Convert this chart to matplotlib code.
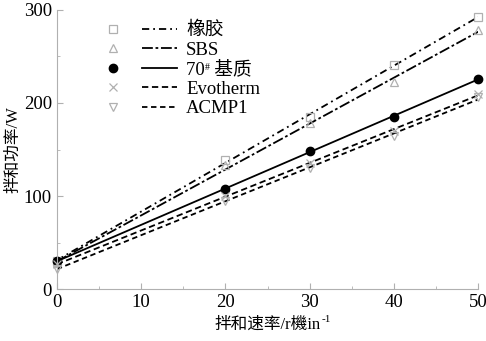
import numpy as np
import matplotlib
matplotlib.use("Agg")
import matplotlib.pyplot as plt
from matplotlib.lines import Line2D
from matplotlib.legend_handler import HandlerTuple
from matplotlib.ticker import MultipleLocator

plt.rcParams['font.family'] = ['Liberation Serif', 'Noto Sans CJK SC']

# mixing speed (r/min) and mixing power (W)
speed = [0, 20, 30, 40, 50]
rubber = [30, 139, 185, 241, 292]
sbs = [28, 133, 178, 223, 278]
base70 = [30, 108, 148, 185, 226]
evotherm = [27, 100, 135, 170, 210]
acmp1 = [22, 95, 130, 165, 206]

labels = ["橡胶", "SBS", "70  基质", "Evotherm", "ACMP1"]
series = [rubber, sbs, base70, evotherm, acmp1]
markers = ["s", "^", "o", "x", "v"]
dashes = [(0, (4, 2.2, 1, 2.2)), (0, (6, 1.5, 1.5, 1.5)), "-", (0, (3.5, 2)), (0, (3, 2))]

grey = "#b0b0b0"
fig = plt.figure(figsize=(4.86, 3.41), dpi=100)
ax = fig.add_axes([0.117, 0.152, 0.867, 0.819])

xs = np.array(speed, float)
xfit = np.array([0.0, 50.0])
handles = []
for y, m, ls in zip(series, markers, dashes):
    k, b = np.polyfit(xs, y, 1)           # fitted line as in the figure
    ax.plot(xfit, k * xfit + b, color="k", ls=ls, lw=1.3)
    if m == "o":
        mk = dict(marker="o", color="k", ms=6, ls="none")
    else:
        mk = dict(marker=m, mfc="none", mec=grey, ms=6, mew=0.9, ls="none")
    ax.plot(xs, y, clip_on=False, **mk)
    handles.append((Line2D([], [], **mk), Line2D([], [], color="k", ls=ls, lw=1.3)))

leg = ax.legend(handles, labels, handler_map={tuple: HandlerTuple(ndivide=None, pad=0.6)},
                handlelength=4.3, frameon=False, loc="upper left",
                bbox_to_anchor=(0.075, 0.985), fontsize=13.5, labelspacing=0.12,
                handletextpad=0.5, borderaxespad=0.0)

ax.set_xlim(0, 50)
ax.set_ylim(0, 300)
ax.xaxis.set_major_locator(MultipleLocator(10))
ax.xaxis.set_minor_locator(MultipleLocator(5))
ax.yaxis.set_major_locator(MultipleLocator(100))
ax.yaxis.set_minor_locator(MultipleLocator(50))
for s in ["top", "right"]:
    ax.spines[s].set_visible(False)
for s in ["left", "bottom"]:
    ax.spines[s].set_color(grey)
ax.tick_params(which="both", direction="in", color=grey, labelsize=13.5)
ax.tick_params(which="major", length=4)
ax.tick_params(which="minor", length=2)
xl = ax.set_xlabel("拌和速率/r機in", fontsize=12, labelpad=4)
ax.set_ylabel("拌和功率/W", fontsize=12, labelpad=2)

# superscripts placed by hand (mathtext would drop the CJK fallback)
fig.canvas.draw()
r = fig.canvas.get_renderer()
inv = fig.transFigure.inverted()
bb = xl.get_window_extent(r)
x0, y1 = inv.transform((bb.x1, bb.y1))
fig.text(x0 + 0.002, y1 + 0.004, "-1", fontsize=8, va="top", ha="left")

t = leg.get_texts()[2]
tb = t.get_window_extent(r)
probe = fig.text(0, 0, "70", fontsize=13.5)
pw = probe.get_window_extent(r).width
probe.remove()
sx, sy = inv.transform((tb.x0 + pw, tb.y1))
fig.text(sx, sy - 0.006, "#", fontsize=7, va="top", ha="left")

fig.savefig("out.png", dpi=100)
